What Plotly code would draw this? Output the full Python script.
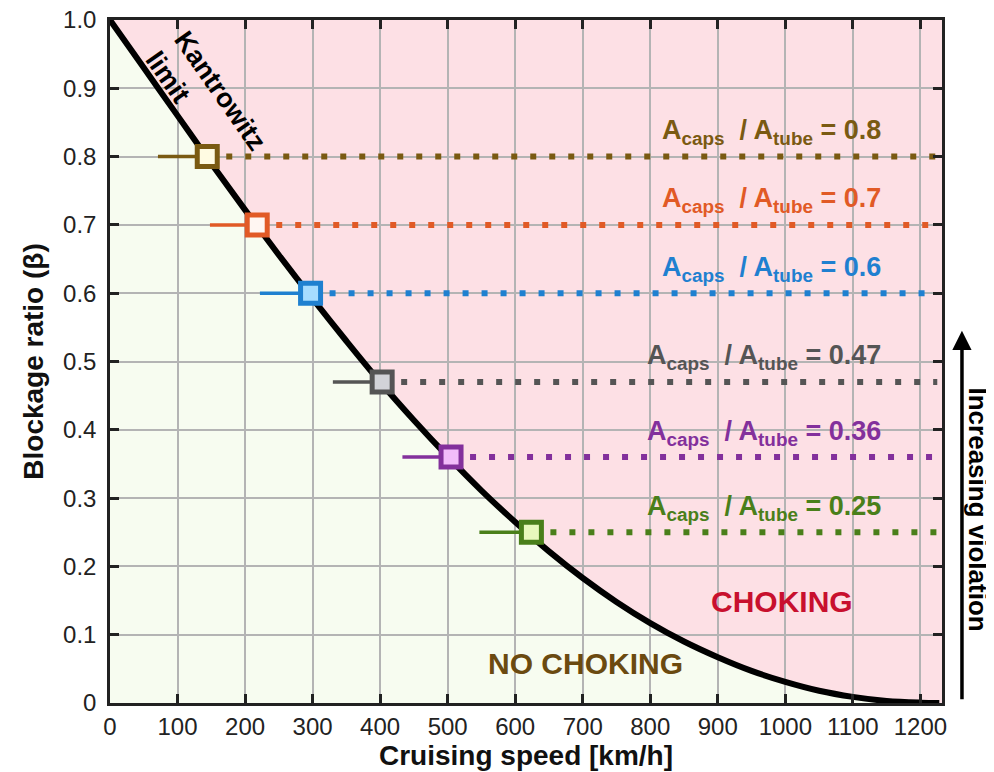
import plotly.graph_objects as go

# Kantrowitz limit curve
curve_speed = [0, 50, 100, 150, 200, 250, 300, 350, 400, 450, 500, 550, 600, 650,
               700, 750, 800, 850, 900, 950, 1000, 1050, 1100, 1150, 1200, 1228]
curve_beta = [1.0, 0.93, 0.86, 0.79, 0.722, 0.656, 0.592, 0.53, 0.47, 0.414, 0.361,
              0.311, 0.265, 0.222, 0.183, 0.148, 0.117, 0.09, 0.067, 0.047, 0.031,
              0.018, 0.009, 0.003, 0.0005, 0.0]

# Operating points
ratio_labels = ["0.8", "0.7", "0.6", "0.47", "0.36", "0.25"]
point_speed = [144, 218, 297, 403, 505, 624]
point_beta = [0.8, 0.7, 0.6, 0.47, 0.36, 0.25]
left_start = [71, 148, 222, 330, 433, 547]
right_end = 1225
line_colors = ["#7a5a12", "#e15a26", "#1f80d0", "#555555", "#83309c", "#4a7f1a"]
fill_colors = ["#fffbe2", "#fff6f2", "#a6dcff", "#d2d3d8", "#f2bcfa", "#e8f8bc"]

x_ticks = list(range(0, 1201, 100))
y_ticks = [0, 0.1, 0.2, 0.3, 0.4, 0.5, 0.6, 0.7, 0.8, 0.9, 1.0]
y_ticktext = ["0", "0.1", "0.2", "0.3", "0.4", "0.5", "0.6", "0.7", "0.8", "0.9", "1.0"]

X_MAX = 1232
FONT = "Liberation Sans, Arial, sans-serif"

fig = go.Figure()

# pink region above the curve (below gridlines)
path = "M 0,1 " + " ".join(f"L {x},{y}" for x, y in zip(curve_speed, curve_beta))
path += f" L {X_MAX},0 L {X_MAX},1 Z"
fig.add_shape(type="path", path=path, xref="x", yref="y", layer="below",
              fillcolor="#fde0e5", line=dict(width=0))

for i in range(len(point_beta)):
    c = line_colors[i]
    fig.add_trace(go.Scatter(x=[point_speed[i], right_end], y=[point_beta[i], point_beta[i]],
                             mode="lines", line=dict(color=c, width=6, dash="6px,13px"),
                             hoverinfo="skip", showlegend=False))
    fig.add_trace(go.Scatter(x=[left_start[i], point_speed[i]], y=[point_beta[i], point_beta[i]],
                             mode="lines", line=dict(color=c, width=3.5),
                             hoverinfo="skip", showlegend=False))

fig.add_trace(go.Scatter(x=curve_speed, y=curve_beta, mode="lines",
                         line=dict(color="black", width=6, shape="spline"),
                         hoverinfo="skip", showlegend=False))

fig.add_trace(go.Scatter(x=point_speed, y=point_beta, mode="markers",
                         marker=dict(symbol="square", size=20, color=fill_colors,
                                     line=dict(color=line_colors, width=5)),
                         hoverinfo="skip", showlegend=False))

for i in range(len(point_beta)):
    fig.add_annotation(x=1145, y=point_beta[i] + 0.036, xref="x", yref="y",
                       xanchor="right", yanchor="middle", showarrow=False,
                       text=f"<b>A<sub>caps</sub>  / A<sub>tube</sub> = {ratio_labels[i]}</b>",
                       font=dict(size=27, color=line_colors[i], family=FONT))

fig.add_annotation(x=995, y=0.149, xref="x", yref="y", showarrow=False,
                   text="<b>CHOKING</b>",
                   font=dict(size=30, color="#c8102e", family=FONT))
fig.add_annotation(x=704, y=0.058, xref="x", yref="y", showarrow=False,
                   text="<b>NO CHOKING</b>",
                   font=dict(size=30, color="#6b4a10", family=FONT))
fig.add_annotation(x=141.5, y=0.882, xref="x", yref="y", showarrow=False, textangle=55,
                   text="<b>Kantrowitz<br>limit</b>", align="left",
                   font=dict(size=27, color="black", family=FONT))

# Increasing violation arrow + text
fig.add_annotation(x=1.024, y=0.545, xref="paper", yref="paper",
                   ax=0, ay=370, axref="pixel", ayref="pixel",
                   showarrow=True, arrowhead=2, arrowsize=1.1, arrowwidth=3.5,
                   arrowcolor="black", text="")
fig.add_annotation(x=1.0435, y=0.283, xref="paper", yref="paper", showarrow=False,
                   xanchor="center", yanchor="middle",
                   textangle=90, text="<b>Increasing violation</b>", borderpad=0,
                   font=dict(size=26, color="black", family=FONT))

axis_common = dict(showline=True, linecolor="#222222", linewidth=2.5, mirror="ticks",
                   ticks="inside", ticklen=9, tickwidth=3, tickcolor="#222222",
                   showgrid=True, gridcolor="#b4b4b4", gridwidth=1.8, zeroline=False,
                   automargin=False, ticklabeloverflow="allow",
                   tickfont=dict(size=24, color="#222222", family=FONT))

fig.update_xaxes(range=[0, X_MAX], tickvals=x_ticks, **axis_common,
                 title=dict(text="<b>Cruising speed [km/h]</b>", standoff=6,
                            font=dict(size=28, color="#111111", family=FONT)))
fig.update_yaxes(range=[0, 1.0], tickvals=y_ticks, ticktext=y_ticktext, **axis_common,
                 ticklabelstandoff=6,
                 title=dict(text="<b>Blockage ratio (β)</b>", standoff=12,
                            font=dict(size=28, color="#111111", family=FONT)))

# the page body has an 8px margin, so the figure is offset by 8px
fig.update_layout(width=1000, height=764, margin=dict(l=102, r=66, t=12, b=69),
                  plot_bgcolor="#f7fcf0", paper_bgcolor="white", showlegend=False)

fig.write_html("out.html")
